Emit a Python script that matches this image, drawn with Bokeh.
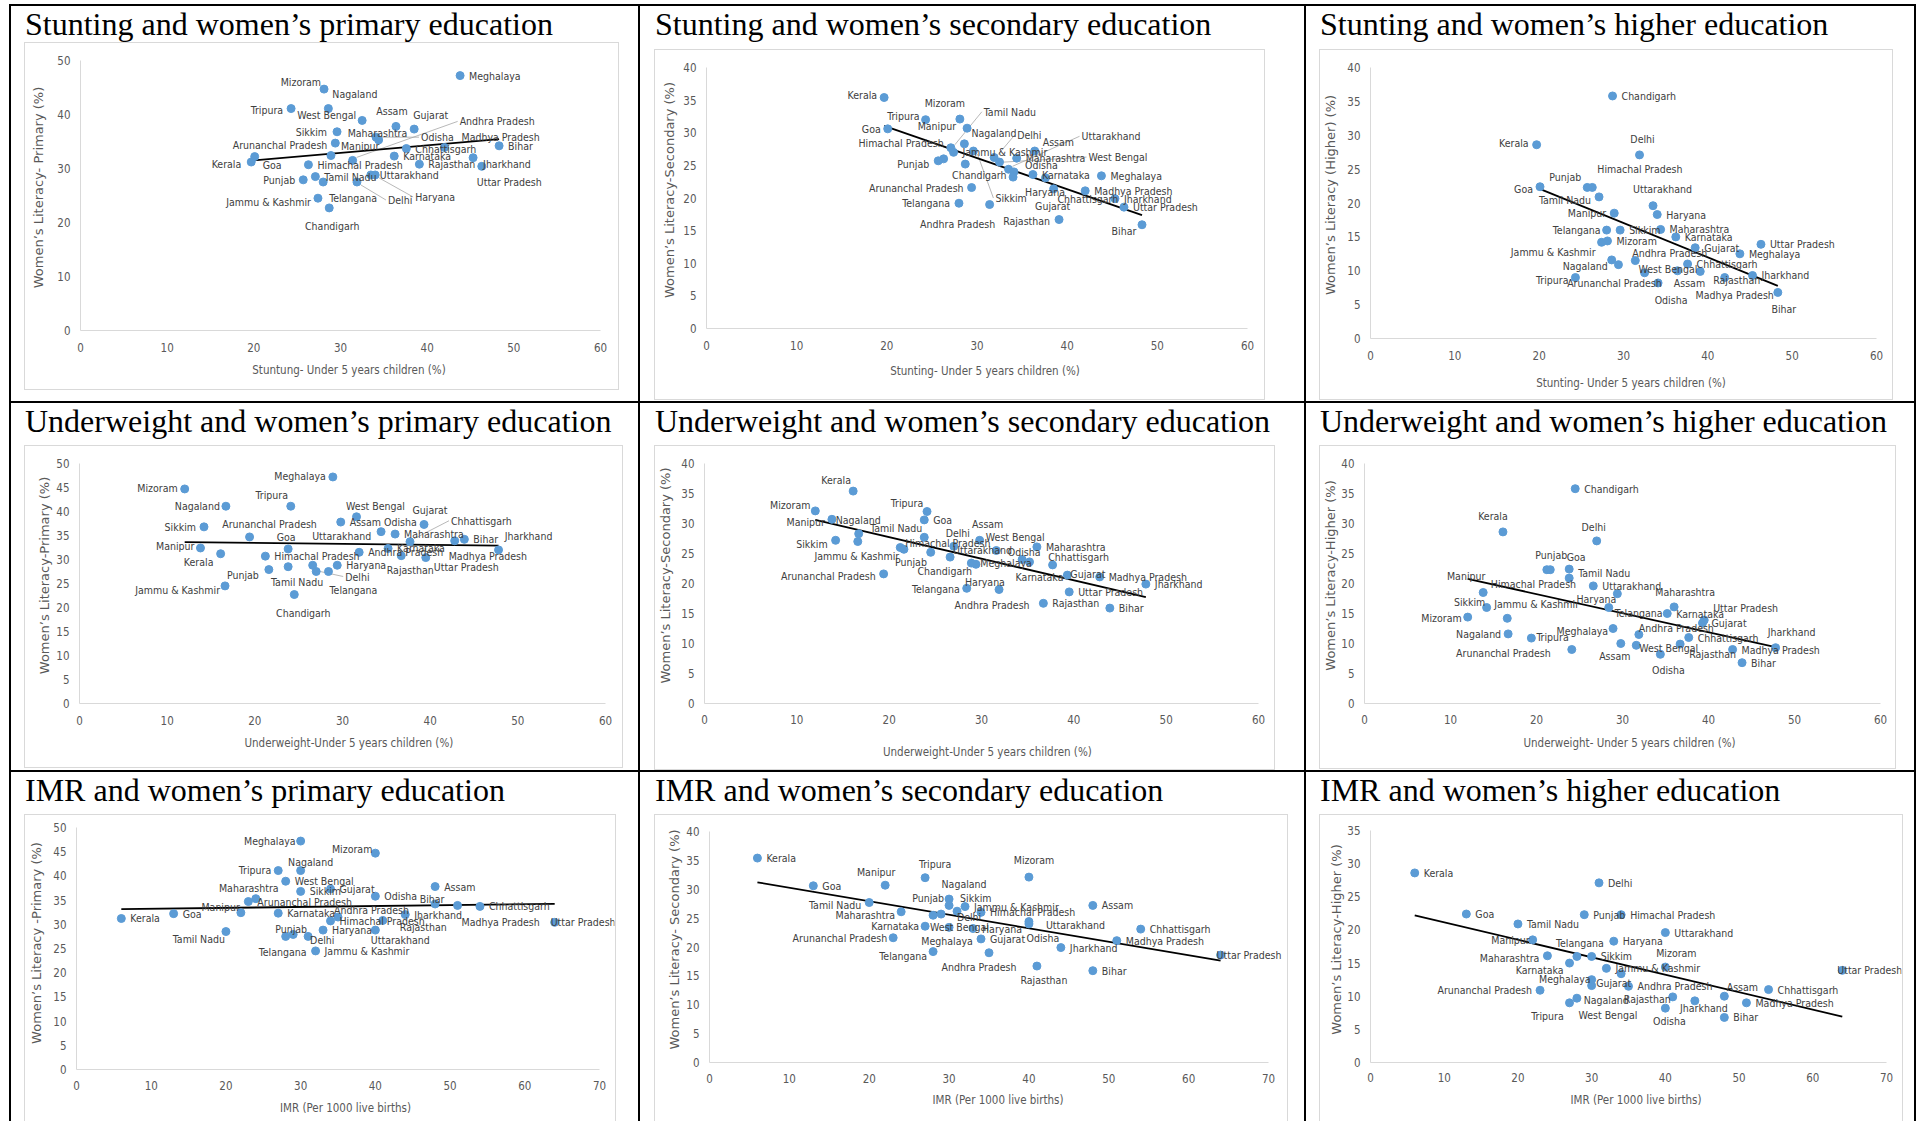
import numpy as np
from bokeh.plotting import figure
from bokeh.models import ColumnDataSource, Range1d, LabelSet, Div, Spacer, FixedTicker
from bokeh.layouts import row, column
from bokeh.core.properties import value, field
from bokeh.embed import file_html
from bokeh.resources import INLINE

# ---------------- data ----------------
states = ["Kerala", "Goa", "Tripura", "Mizoram", "Manipur", "Nagaland", "Himachal Pradesh",
          "Punjab", "Tamil Nadu", "Delhi", "Jammu & Kashmir", "Sikkim", "Chandigarh",
          "Arunanchal Pradesh", "Telangana", "Andhra Pradesh", "Maharashtra", "Uttarakhand",
          "Assam", "West Bengal", "Odisha", "Karnataka", "Haryana", "Chhattisgarh", "Meghalaya",
          "Madhya Pradesh", "Jharkhand", "Gujarat", "Uttar Pradesh", "Rajasthan", "Bihar"]
stunting = [19.7, 20.1, 24.3, 28.1, 28.9, 28.6, 26.3, 25.7, 27.1, 31.9, 27.4, 29.6, 28.7, 29.4, 28.0,
            31.4, 34.4, 33.5, 36.4, 32.5, 34.1, 36.2, 34.0, 37.6, 43.8, 42.0, 45.3, 38.5, 46.3, 39.1, 48.3]
underweight = [16.1, 23.8, 24.1, 12.0, 13.8, 16.7, 21.2, 21.6, 23.8, 27.0, 16.6, 14.2, 24.5, 19.4, 28.4,
               31.9, 36.0, 26.6, 29.8, 31.6, 34.4, 35.2, 29.4, 37.7, 28.9, 42.8, 47.8, 39.3, 39.5, 36.7, 43.9]
imr = [6, 13, 27, 40, 22, 30, 34, 29, 20, 31, 32, 30, None, 23, 28,
       35, 24, 40, 48, 28, 40, 27, 33, 54, 30, 51, 44, 34, 64, 41, 48]
primary = [31.2, 32.2, 41.1, 44.7, 32.4, 41.1, 30.7, 27.9, 28.5, 27.5, 24.5, 36.8, 22.7, 34.7, 27.5,
           31.5, 35.3, 28.8, 37.8, 38.9, 35.8, 32.3, 28.8, 33.7, 47.2, 33.9, 32.0, 37.3, 30.4, 30.8, 34.2]
secondary = [35.4, 30.6, 32.0, 32.1, 30.7, 28.3, 26.0, 25.7, 27.7, 26.2, 27.0, 27.2, 25.2, 21.6, 19.2,
             19.0, 26.1, 24.4, 27.2, 25.5, 24.0, 23.6, 23.2, 23.1, 23.4, 21.1, 19.9, 21.4, 18.6, 16.7, 15.9]
higher = [28.6, 22.4, 9.0, 14.4, 18.5, 11.6, 22.3, 22.3, 20.9, 27.1, 14.2, 16.0, 35.8, 10.9, 16.0,
          11.5, 16.1, 19.6, 10.0, 9.7, 8.2, 15.0, 18.3, 11.0, 12.5, 9.0, 9.3, 13.4, 13.9, 9.9, 6.8]

titles = ["Stunting and women\u2019s primary education", "Stunting and women\u2019s secondary education",
          "Stunting and women\u2019s higher education",
          "Underweight and women\u2019s primary education", "Underweight and women\u2019s secondary education",
          "Underweight and women\u2019s higher education",
          "IMR and women\u2019s primary education", "IMR and women\u2019s secondary education",
          "IMR and women\u2019s higher education"]
x_titles = ["Stuntung- Under 5 years children (%)", "Stunting- Under 5 years children (%)",
            "Stunting- Under 5 years children (%)",
            "Underweight-Under  5 years children (%)", "Underweight-Under  5 years children (%)",
            "Underweight- Under 5 years children (%)",
            "IMR (Per 1000 live births)", "IMR (Per 1000 live births)", "IMR (Per 1000 live births)"]
y_titles = ["Women\u2019s Literacy- Primary (%)", "Women\u2019s Literacy-Secondary (%)",
            "Women\u2019s Literacy (Higher) (%)",
            "Women\u2019s Literacy-Primary (%)", "Women\u2019s Literacy-Secondary (%)",
            "Women\u2019s Literacy-Higher (%)",
            "Women\u2019s Literacy -Primary (%)", "Women\u2019s Literacy- Secondary (%)",
            "Women\u2019s Literacy-Higher (%)"]
x_series = [stunting, stunting, stunting, underweight, underweight, underweight, imr, imr, imr]
y_series = [primary, secondary, higher, primary, secondary, higher, primary, secondary, higher]
x_max = [60, 60, 60, 60, 60, 60, 70, 70, 70]
y_max = [50, 40, 40, 50, 40, 40, 50, 40, 35]
y_step = [10, 5, 5, 5, 5, 5, 5, 5, 5]

# ---------------- styling / geometry ----------------
# (frame_left, frame_top, frame_w, frame_h, bottom_line, L, R, T, B, xstand, xtitlestand, ytitlestand)
geom = [
    (13, 36, 595, 348, True, 55, 18, 17, 59, 12, 7, 8),
    (14, 43, 611, 351, True, 51, 17, 17, 71, 12, 10, 3),
    (13, 43, 574, 351, True, 50, 16, 17, 61, 12, 12, 6),
    (13, 42, 599, 323, True, 54, 17, 17, 64, 12, 7, 1),
    (14, 42, 621, 325, True, 49, 16, 17, 66, 11, 17, 5),
    (13, 42, 577, 324, True, 43, 15, 17, 65, 11, 8, 0),
    (13, 42, 592, 307, False, 51, 16, 12, 52, 11, 7, 6),
    (14, 42, 634, 307, False, 54, 19, 16, 59, 11, 6, 1),
    (13, 42, 584, 307, False, 50, 16, 15, 59, 10, 7, 0),
]
col_w = [627, 664, 608]
row_h = [395, 367, 349]

# label placements: state -> (align, dx, dy[px, +down]); default right of point
L = {"l": "left", "r": "right", "c": "center"}
offs = [
    {"Mizoram": ("r", -3, -7), "Nagaland": ("l", 4, -15), "Tripura": ("r", -8, 1), "West Bengal": ("r", -6, -5),
     "Assam": ("c", -4, -15), "Gujarat": ("l", -1, -14), "Andhra Pradesh": ("l", 107, -39), "Sikkim": ("r", -10, 0),
     "Maharashtra": ("l", -31, -7), "Odisha": ("l", 45, 0), "Madhya Pradesh": ("l", 17, -10),
     "Arunanchal Pradesh": ("r", -8, 2), "Manipur": ("l", 10, -10), "Kerala": ("r", -10, 2), "Goa": ("l", 8, 8),
     "Jharkhand": ("l", 10, 6), "Uttar Pradesh": ("l", -5, 16), "Punjab": ("r", -8, 0), "Haryana": ("l", 40, 22),
     "Telangana": ("l", 6, 16), "Delhi": ("l", 31, 18), "Jammu & Kashmir": ("r", -7, 4), "Chandigarh": ("c", 3, 18)},
    {"Kerala": ("r", -7, -3), "Mizoram": ("c", -15, -16), "Tamil Nadu": ("l", 33, -36), "Tripura": ("r", -6, -4),
     "Manipur": ("r", -11, -2), "Goa": ("r", -7, 0), "Nagaland": ("l", 7, -11), "Delhi": ("l", 23, -23),
     "Uttarakhand": ("l", 73, -33), "Assam": ("l", 8, -9), "Himachal Pradesh": ("r", 0, -16),
     "West Bengal": ("l", 89, -5), "Punjab": ("r", -9, 3), "Odisha": ("l", 11, -7), "Chandigarh": ("c", 14, 11),
     "Arunanchal Pradesh": ("r", -8, 0), "Haryana": ("l", 12, 15), "Chhattisgarh": ("l", 12, 21),
     "Telangana": ("r", -9, 0), "Sikkim": ("l", 22, 47), "Andhra Pradesh": ("c", -32, 19), "Gujarat": ("c", -1, 17),
     "Rajasthan": ("r", -9, 1), "Bihar": ("c", -18, 6)},
    {"Kerala": ("r", -8, -2), "Delhi": ("c", 3, -16), "Himachal Pradesh": ("l", 5, -18), "Punjab": ("c", -22, -10),
     "Goa": ("r", -7, 2), "Uttarakhand": ("l", -20, -17), "Tamil Nadu": ("r", -8, 3), "Manipur": ("r", -8, 0),
     "Telangana": ("r", -6, 0), "Jammu & Kashmir": ("r", -6, 10), "Andhra Pradesh": ("l", -3, -8),
     "Nagaland": ("r", -4, 6), "Arunanchal Pradesh": ("c", -4, 18), "West Bengal": ("l", -6, -4),
     "Assam": ("c", 12, 12), "Rajasthan": ("l", 13, 9), "Tripura": ("r", -7, 2), "Madhya Pradesh": ("c", 10, 17),
     "Odisha": ("c", 13, 17), "Bihar": ("c", 6, 17)},
    {"Mizoram": ("r", -7, -1), "Meghalaya": ("r", -7, -1), "Nagaland": ("r", -6, 0), "Tripura": ("c", -19, -11),
     "West Bengal": ("c", 19, -11), "Gujarat": ("c", 6, -14), "Odisha": ("l", 3, -10), "Chhattisgarh": ("l", 41, -21),
     "Sikkim": ("r", -8, 0), "Arunanchal Pradesh": ("c", 20, -13), "Goa": ("c", -2, -12),
     "Uttarakhand": ("c", 29, -29), "Madhya Pradesh": ("l", -6, 15), "Jharkhand": ("c", 30, -14),
     "Manipur": ("r", -6, -2), "Kerala": ("c", -22, 8), "Rajasthan": ("c", 9, 14), "Uttar Pradesh": ("l", 8, 9),
     "Punjab": ("r", -10, 5), "Tamil Nadu": ("c", 9, 15), "Delhi": ("l", 29, 5), "Telangana": ("c", 25, 18),
     "Jammu & Kashmir": ("r", -5, 4), "Chandigarh": ("c", 9, 18)},
    {"Kerala": ("c", -17, -11), "Mizoram": ("c", -25, -6), "Tripura": ("c", -20, -9), "Manipur": ("r", -7, 3),
     "Nagaland": ("l", -23, -14), "Assam": ("c", 8, -16), "Tamil Nadu": ("c", -28, -9), "Delhi": ("c", 4, -13),
     "West Bengal": ("c", 19, -14), "Sikkim": ("r", -8, 4), "Jammu & Kashmir": ("c", -1, 14),
     "Himachal Pradesh": ("l", 5, -5), "Punjab": ("c", 7, 13), "Uttarakhand": ("l", 3, -7),
     "Chandigarh": ("c", 14, 19), "Odisha": ("c", 2, -8), "Karnataka": ("c", 10, 15),
     "Chhattisgarh": ("c", 26, -8), "Haryana": ("c", 9, 18), "Gujarat": ("l", 3, -1),
     "Arunanchal Pradesh": ("r", -8, 2), "Telangana": ("r", -7, 1), "Andhra Pradesh": ("c", -7, 15)},
    {"Kerala": ("c", -10, -16), "Delhi": ("c", -3, -14), "Punjab": ("c", 1, -15), "Goa": ("c", 7, -12),
     "Tamil Nadu": ("l", 9, -5), "Manipur": ("c", -17, -17), "Himachal Pradesh": ("l", -56, 14),
     "Haryana": ("c", -21, 5), "Maharashtra": ("c", 11, -15), "Sikkim": ("c", -17, -6),
     "Jammu & Kashmir": ("l", -13, -14), "Telangana": ("l", 6, 5), "Mizoram": ("r", -6, 1),
     "Uttar Pradesh": ("l", 9, -12), "Andhra Pradesh": ("l", 0, -7), "Meghalaya": ("r", -5, 2),
     "Nagaland": ("r", -7, 0), "Arunanchal Pradesh": ("c", -28, 15), "Tripura": ("r", -3, -13),
     "Assam": ("c", -6, 12), "West Bengal": ("l", 3, 3), "Rajasthan": ("l", 9, 10), "Jharkhand": ("c", 16, -16),
     "Odisha": ("c", 8, 16)},
    {"Meghalaya": ("r", -5, 0), "Mizoram": ("r", -3, -4), "Nagaland": ("c", 10, -9), "Tripura": ("r", -7, -1),
     "Maharashtra": ("c", -7, -11), "Bihar": ("c", -3, -5), "Manipur": ("r", -1, -6),
     "Madhya Pradesh": ("l", 4, 17), "Andhra Pradesh": ("l", -4, -7), "Rajasthan": ("l", 17, 7),
     "Uttarakhand": ("c", 25, 10), "Uttar Pradesh": ("l", -4, 0), "Tamil Nadu": ("r", -1, 7),
     "Punjab": ("c", -2, -5), "Delhi": ("l", 2, 4), "Telangana": ("c", -3, 16)},
    {"Mizoram": ("c", 5, -17), "Tripura": ("c", 10, -14), "Manipur": ("c", -9, -13), "Nagaland": ("c", 15, -15),
     "Punjab": ("r", 3, -16), "Sikkim": ("l", 11, -7), "Tamil Nadu": ("r", -8, 2), "Maharashtra": ("r", -6, 3),
     "Delhi": ("c", 12, 6), "West Bengal": ("l", -3, 12), "Uttarakhand": ("l", 17, 3), "Odisha": ("c", 14, 14),
     "Karnataka": ("r", -6, 0), "Meghalaya": ("c", -2, 14), "Arunanchal Pradesh": ("r", -6, 0),
     "Telangana": ("r", -6, 4), "Andhra Pradesh": ("c", -10, 14), "Uttar Pradesh": ("l", -4, 0),
     "Rajasthan": ("c", 7, 14)},
    {"Manipur": ("r", -3, 0), "Telangana": ("c", 3, -13), "Maharashtra": ("r", -8, 2), "Mizoram": ("c", 11, -14),
     "Karnataka": ("r", -6, 7), "Gujarat": ("l", -25, 9), "Uttar Pradesh": ("l", -5, 0), "Meghalaya": ("r", -1, -1),
     "Arunanchal Pradesh": ("r", -8, 0), "Assam": ("c", 18, -9), "Rajasthan": ("r", -2, 2),
     "Nagaland": ("l", -8, 14), "West Bengal": ("c", 31, 17), "Tripura": ("c", -22, 13),
     "Jharkhand": ("c", 9, 7), "Odisha": ("c", 4, 13)},
]

NARROW = "Liberation Sans Narrow, DejaVu Sans Condensed, Liberation Sans"
TICK_C = "#595959"
LABEL_C = "#404040"
DOT_C = "#5B9BD5"
GRAY = "#d9d9d9"
LEADER_C = "#a6a6a6"


def box(w, h, color):
    return Spacer(width=w, height=h, margin=0, styles={"background-color": color})


def make_panel(i):
    fl, ft, fw, fh, bline, mb_l, mb_r, mb_t, mb_b, xs_st, xt_st, yt_st = geom[i]
    fig_w = fw - 2
    fig_h = fh - 2 if bline else fh - 1
    # keep the reference's scale but let the frame run to the edge so labels aren't clipped
    plot_w = fig_w - mb_l - mb_r
    x_end = x_max[i] * (fig_w - mb_l - 1) / plot_w
    plot_h = fig_h - mb_t - mb_b
    y_end = y_max[i] * (fig_h - mb_b - 1) / plot_h
    ux = x_max[i] / plot_w   # data units per pixel
    uy = y_max[i] / plot_h
    p = figure(width=fig_w, height=fig_h, output_backend="svg", toolbar_location=None, title=None,
               x_range=Range1d(0, x_end), y_range=Range1d(0, y_end), margin=0,
               min_border_left=mb_l, min_border_right=1, min_border_top=1, min_border_bottom=mb_b)
    p.background_fill_color = "white"
    p.border_fill_color = "white"
    p.outline_line_color = None
    p.xgrid.visible = False
    p.ygrid.visible = False
    p.xaxis.ticker = FixedTicker(ticks=list(range(0, x_max[i] + 1, 10)))
    p.yaxis.ticker = FixedTicker(ticks=list(range(0, y_max[i] + 1, y_step[i])))
    p.xaxis.bounds = (0, x_max[i])
    p.yaxis.bounds = (0, y_max[i])
    for ax in (p.xaxis[0], p.yaxis[0]):
        ax.axis_line_color = GRAY
        ax.axis_line_width = 1
        ax.major_tick_line_color = None
        ax.minor_tick_line_color = None
        ax.major_tick_out = 0
        ax.major_tick_in = 0
        ax.minor_tick_out = 0
        ax.minor_tick_in = 0
        ax.major_label_text_color = TICK_C
        ax.major_label_text_font = NARROW
        ax.major_label_text_font_size = "11.5px"
        ax.axis_label_text_color = TICK_C
        ax.axis_label_text_font_style = "normal"
    p.xaxis.major_label_standoff = xs_st
    p.yaxis.major_label_standoff = 10
    p.xaxis.axis_label = x_titles[i]
    p.xaxis.axis_label_text_font = NARROW
    p.xaxis.axis_label_text_font_size = "11.5px"
    p.xaxis.axis_label_standoff = xt_st + 1
    p.yaxis.axis_label = y_titles[i]
    p.yaxis.axis_label_text_font = "DejaVu Sans"
    p.yaxis.axis_label_text_font_size = "13px"
    p.yaxis.axis_label_standoff = yt_st

    xs, ys, names, dxs, dys, als = [], [], [], [], [], []
    lx0, ly0, lx1, ly1 = [], [], [], []
    for s, xv, yv in zip(states, x_series[i], y_series[i]):
        if xv is None:
            continue
        a, dx, dy = offs[i].get(s, ("l", 9, 0))
        xs.append(xv); ys.append(yv); names.append(s)
        dxs.append(dx); dys.append(-dy); als.append(L[a])
        # leader line for labels moved well away from their point
        if a == "l" and dx > 18 and (dx * dx + dy * dy) ** 0.5 > 28:
            lx0.append(xv + 4 * ux * (1 if dx > 0 else -1)); ly0.append(yv - 3 * uy * (1 if dy > 0 else -1) * (abs(dy) > 8))
            lx1.append(xv + (dx - 2) * ux); ly1.append(yv - dy * uy)
    src = ColumnDataSource(dict(x=xs, y=ys, name=names, dx=dxs, dy=dys, al=als))

    # linear trendline fitted to the data
    k, b = np.polyfit(np.array(xs, dtype=float), np.array(ys, dtype=float), 1)
    tx = [min(xs), max(xs)]
    if lx0:
        p.segment(lx0, ly0, lx1, ly1, line_color=LEADER_C, line_width=0.8)
    p.line(tx, [k * v + b for v in tx], line_color="black", line_width=1.8)

    p.scatter("x", "y", source=src, size=8, fill_color=DOT_C, line_color=DOT_C)
    labels = LabelSet(x="x", y="y", text="name", source=src, x_offset="dx", y_offset="dy",
                      text_align=field("al"), text_baseline="middle",
                      text_font=value(NARROW), text_font_size=value("10.5px"), text_color=value(LABEL_C))
    p.add_layout(labels)

    parts = [box(fw, 1, GRAY),
             row(box(1, fig_h, GRAY), p, box(1, fig_h, GRAY), margin=0, spacing=0)]
    if bline:
        parts.append(box(fw, 1, GRAY))
    frame = column(*parts, margin=0, spacing=0)
    return fl, ft, frame


cells_rows = []
for r in range(3):
    items = [box(2, row_h[r], "black")]
    for c in range(3):
        i = r * 3 + c
        fl, ft, frame = make_panel(i)
        tdiv = Div(text=titles[i], width=col_w[c], height=ft, margin=0,
                   styles={"font-family": "'Liberation Serif', 'Times New Roman', serif", "font-size": "32px",
                           "line-height": "36px", "color": "black", "white-space": "nowrap",
                           "padding-left": "%dpx" % (fl + 1), "box-sizing": "border-box", "overflow": "hidden"})
        cell = column(tdiv, row(Spacer(width=fl, height=10, margin=0), frame, margin=0, spacing=0),
                      width=col_w[c], height=row_h[r], margin=0, spacing=0)
        items.append(cell)
        items.append(box(2, row_h[r], "black"))
    cells_rows.append(row(*items, margin=0, spacing=0))

total_w = 2 * 4 + sum(col_w)
root = column(box(total_w, 2, "black"), cells_rows[0], box(total_w, 2, "black"), cells_rows[1],
              box(total_w, 2, "black"), cells_rows[2], margin=0, spacing=0,
              styles={"margin-left": "9px", "margin-top": "4px"})

open("out.html", "w").write(file_html(root, INLINE))
